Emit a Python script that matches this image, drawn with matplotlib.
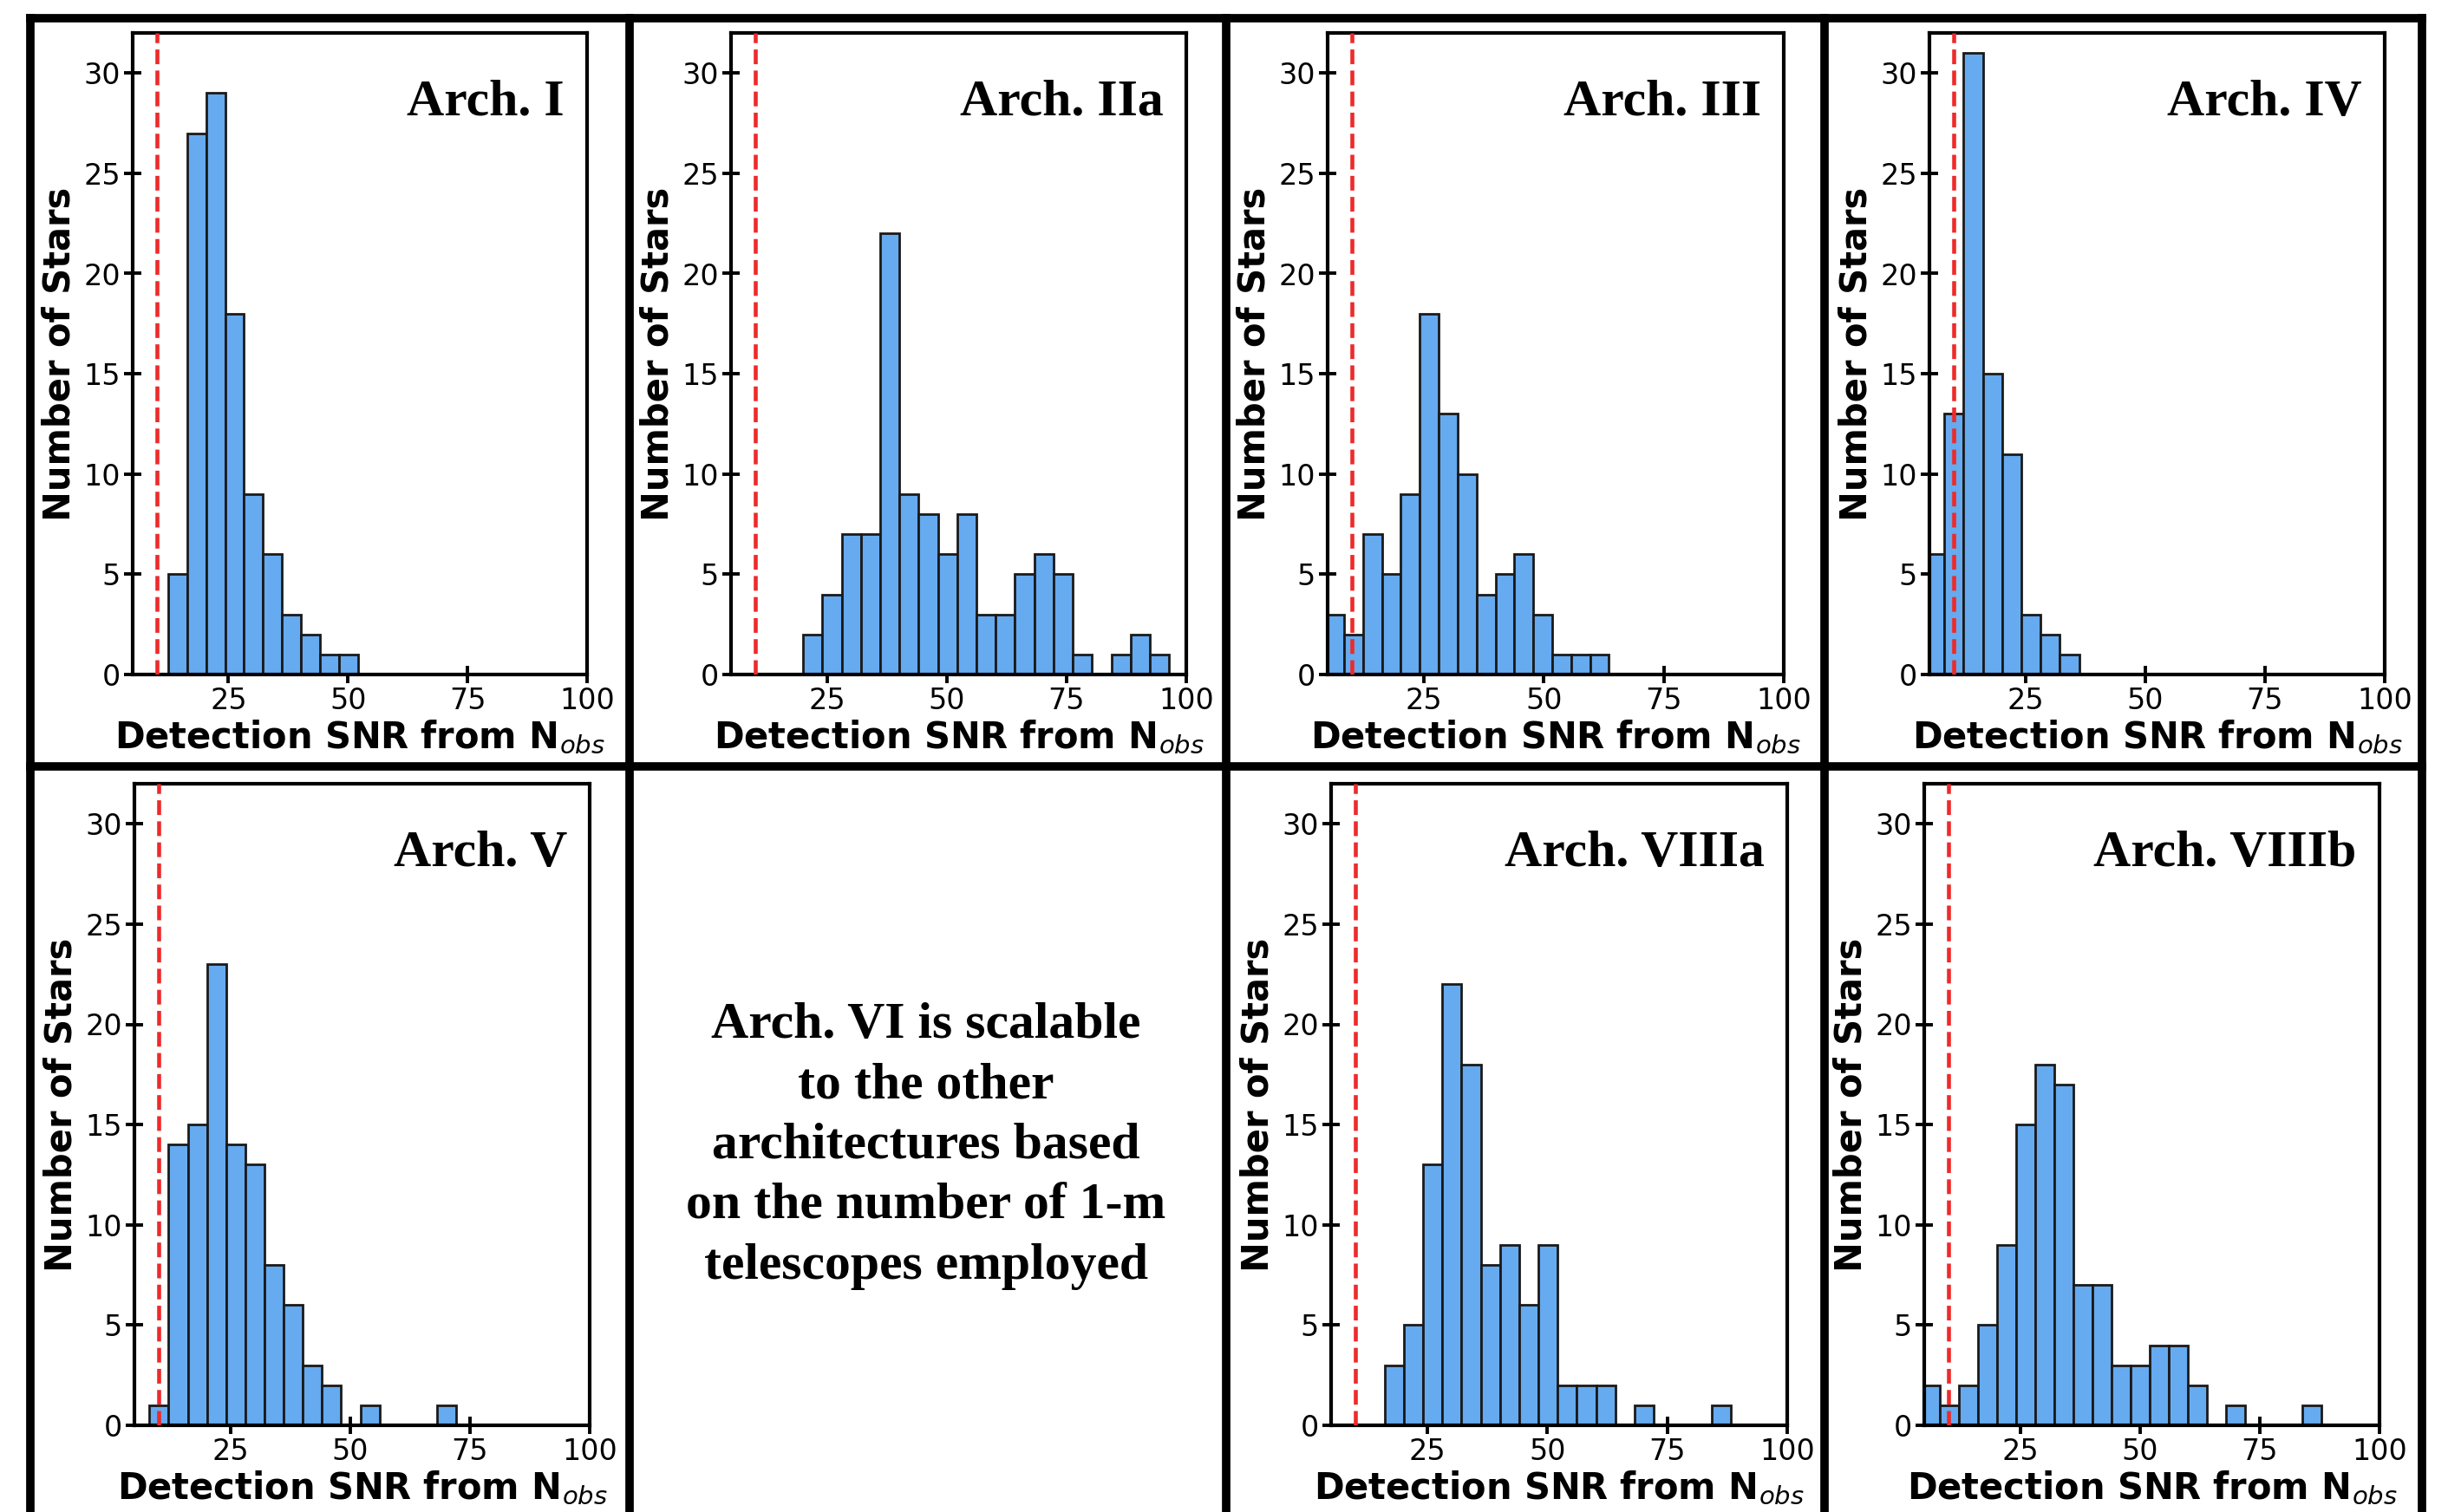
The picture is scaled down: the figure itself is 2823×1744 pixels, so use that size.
import numpy as np
import matplotlib
matplotlib.use("Agg")
import matplotlib.pyplot as plt
from matplotlib.lines import Line2D

# ---------------- data ----------------
arch_names = ["Arch. I", "Arch. IIa", "Arch. III", "Arch. IV",
              "Arch. V", "Arch. VIIIa", "Arch. VIIIb"]
bin_start = [12.4, 20.04, 4.5, 4.07, 8.14, 16.12, 4.28]
bin_width = [3.97, 4.02, 3.94, 4.02, 4.0, 4.007, 3.98]

counts_I = [5, 27, 29, 18, 9, 6, 3, 2, 1, 1]
counts_IIa = [2, 4, 7, 7, 22, 9, 8, 6, 8, 3, 3, 5, 6, 5, 1, 0, 1, 2, 1]
counts_III = [3, 2, 7, 5, 9, 18, 13, 10, 4, 5, 6, 3, 1, 1, 1]
counts_IV = [6, 13, 31, 15, 11, 3, 2, 1]
counts_V = [1, 14, 15, 23, 14, 13, 8, 6, 3, 2, 0, 1, 0, 0, 0, 1]
counts_VIIIa = [3, 5, 13, 22, 18, 8, 9, 6, 9, 2, 2, 2, 0, 1, 0, 0, 0, 1]
counts_VIIIb = [2, 1, 2, 5, 9, 15, 18, 17, 7, 7, 3, 3, 4, 4, 2, 0, 1, 0, 0, 0, 1]
all_counts = [counts_I, counts_IIa, counts_III, counts_IV,
              counts_V, counts_VIIIa, counts_VIIIb]

snr_threshold = 10
x_ticks = [25, 50, 75, 100]
y_ticks = [0, 5, 10, 15, 20, 25, 30]
x_label = r"Detection SNR from $\mathbf{N}_{obs}$"
y_label = "Number of Stars"
note_text = ("Arch. VI is scalable\nto the other\narchitectures based\n"
             "on the number of 1-m\ntelescopes employed")

# ---------------- layout (pixels) ----------------
W, H = 2823, 1744
fig = plt.figure(figsize=(W / 100, H / 100), dpi=100)
fig.patch.set_facecolor("white")

# left, right, top, bottom in pixels
panel_px = [
    (153, 677, 38, 778),
    (843, 1368, 38, 778),
    (1531, 2057, 38, 778),
    (2225, 2750, 38, 778),
    (155, 680, 904, 1644),
    (1535, 2061, 904, 1644),
    (2219, 2744, 904, 1644),
]

bar_color = "#66aaf0"

for name, start, width, counts, (l, r, t, b) in zip(
        arch_names, bin_start, bin_width, all_counts, panel_px):
    ax = fig.add_axes([l / W, 1 - b / H, (r - l) / W, (b - t) / H])
    counts = np.asarray(counts, dtype=float)
    edges = start + width * np.arange(len(counts) + 1)
    centers = edges[:-1] + width / 2
    ax.hist(centers, bins=edges, weights=counts, color=bar_color,
            edgecolor="#1a1a1a", linewidth=2.0, zorder=2)
    ax.axvline(snr_threshold, color="#ee2a2a", ls="--", lw=3.3, zorder=3)
    ax.set_xlim(5, 100)
    ax.set_ylim(0, 32)
    ax.set_xticks(x_ticks)
    ax.set_yticks(y_ticks)
    ax.tick_params(direction="inout", length=14, width=2.8,
                   labelsize=24, pad=3)
    for sp in ax.spines.values():
        sp.set_linewidth(3)
    ax.set_xlabel(x_label, fontsize=30, fontweight="bold", labelpad=3)
    ax.set_ylabel(y_label, fontsize=30, fontweight="bold", labelpad=5)
    ax.text(0.95, 0.872, name, transform=ax.transAxes, ha="right",
            va="baseline", fontfamily="Liberation Serif",
            fontweight="bold", fontsize=43, zorder=5)

# note panel (Arch. VI)
fig.text(1068 / W, 1 - 1322 / H, note_text, ha="center", va="center",
         multialignment="center", fontfamily="Liberation Serif",
         fontweight="bold", fontsize=43, linespacing=1.38)

# ---------------- grid frame ----------------
def hline(y, x1, x2, lw=7):
    fig.add_artist(Line2D([x1 / W, x2 / W], [1 - y / H, 1 - y / H],
                          transform=fig.transFigure, color="black",
                          lw=lw, solid_capstyle="projecting"))

def vline(x, y1, y2, lw=7):
    fig.add_artist(Line2D([x / W, x / W], [1 - y1 / H, 1 - y2 / H],
                          transform=fig.transFigure, color="black",
                          lw=lw, solid_capstyle="projecting"))

hline(21, 35, 2793)
hline(884, 35, 2793)
for xv in (35, 726, 1414, 2104, 2793):
    vline(xv, 21, 1750)

fig.savefig("out.png", dpi=100, facecolor="white")
